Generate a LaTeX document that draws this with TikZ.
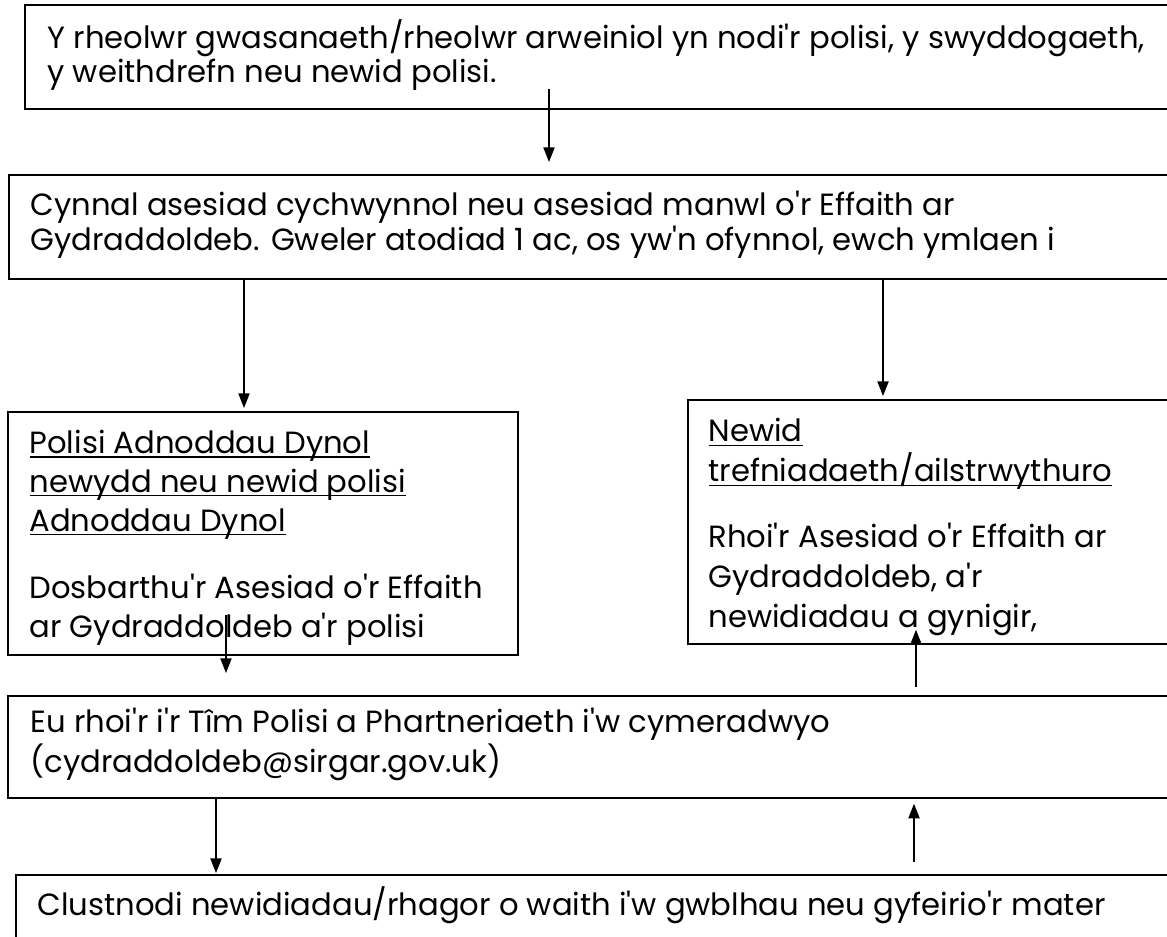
\documentclass[tikz,border=0pt]{standalone}
\usepackage{fontspec}
\setmainfont{Poppins}[Ligatures=TeXOff]
\usetikzlibrary{arrows.meta,calc}
\newcommand{\undl}[1]{\underline{\smash{#1}}}

\begin{document}
\begin{tikzpicture}[x=0.375pt,y=-0.375pt,
  >={Triangle[length=5.5pt,width=4.2pt]},
  box/.style={draw,line width=0.65pt,inner sep=0pt,anchor=north west},
  txt/.style={anchor=base west,align=left,inner sep=0pt},
  arr/.style={->,line width=0.55pt}]

  \useasboundingbox (0,0) rectangle (1167,936);
  \clip (0,0) rectangle (1167,936);

  % boxes, top to bottom (right sides run off the page)
  \node[box,minimum width=433.5pt,minimum height=39pt] (b1) at (24,4) {};
  \node[box,minimum width=439.5pt,minimum height=39pt] (b2) at (8,174) {};
  \node[box,minimum width=191.25pt,minimum height=91.1pt] (b3) at (7,411) {};
  \node[box,minimum width=184.9pt,minimum height=91.5pt] (b4) at (687,399) {};
  \node[box,minimum width=439.9pt,minimum height=38.25pt] (b5) at (7,695) {};
  \node[box,minimum width=436.9pt,minimum height=32.25pt] (b6) at (15,874) {};

  % texts (placed at the baseline of their last line)
  \node[txt,font=\fontsize{11.5}{12.75}\selectfont] (t1) at (47,82)
    {Y rheolwr gwasanaeth/rheolwr arweiniol yn nodi'r polisi, y swyddogaeth,\\
     y weithdrefn neu newid polisi.};
  \node[txt,font=\fontsize{11.5}{13.1}\selectfont] (t2) at (30,250)
    {Cynnal asesiad cychwynnol neu asesiad manwl o'r Effaith ar\\
     Gydraddoldeb. Gweler atodiad 1 ac, os yw'n ofynnol, ewch ymlaen i};
  \node[txt,font=\fontsize{11.5}{14.6}\selectfont] (t3) at (29,637)
    {\undl{Polisi Adnoddau Dynol}\\
     \undl{newydd neu newid polisi}\\
     \undl{Adnoddau Dynol}\\[10.5pt]
     Dosbarthu'r Asesiad o'r Effaith\\
     ar Gydraddoldeb a'r polisi};
  \node[txt,font=\fontsize{11.5}{15}\selectfont] (t4) at (708,627)
    {\undl{Newid}\\
     \undl{trefniadaeth/ailstrwythuro}\\[9.4pt]
     Rhoi'r Asesiad o'r Effaith ar\\
     Gydraddoldeb, a'r\\
     newidiadau a gynigir,};
  \node[txt,font=\fontsize{11.5}{13.1}\selectfont] (t5) at (30,772)
    {Eu rhoi'r i'r Tîm Polisi a Phartneriaeth i'w cymeradwyo\\
     (cydraddoldeb@sirgar.gov.uk)};
  \node[txt,font=\fontsize{11.5}{13.1}\selectfont] (t6) at (37,915)
    {Clustnodi newidiadau/rhagor o waith i'w gwblhau neu gyfeirio'r mater};

  % arrows
  \draw[arr] ($(b1.south west)+(525,-21)$) -- ($(b2.north west)+(541,-12)$);
  \draw[arr] ($(b2.south west)+(236,0)$) -- ($(b3.north west)+(237,-3)$);
  \draw[arr] ($(b2.south west)+(875,0)$) -- ($(b4.north west)+(196,-3)$);
  \draw[arr] ($(b3.south west)+(219,-41)$) -- ($(b5.north west)+(219,-22)$);
  \draw[arr] ($(b5.north west)+(909,-8)$) -- ($(b4.south west)+(229,-15)$);
  \draw[arr] ($(b5.south west)+(209,0)$) -- ($(b6.north west)+(201,-1)$);
  \draw[arr] ($(b6.north west)+(899,-12)$) -- ($(b5.south west)+(907,5)$);
\end{tikzpicture}
\end{document}
